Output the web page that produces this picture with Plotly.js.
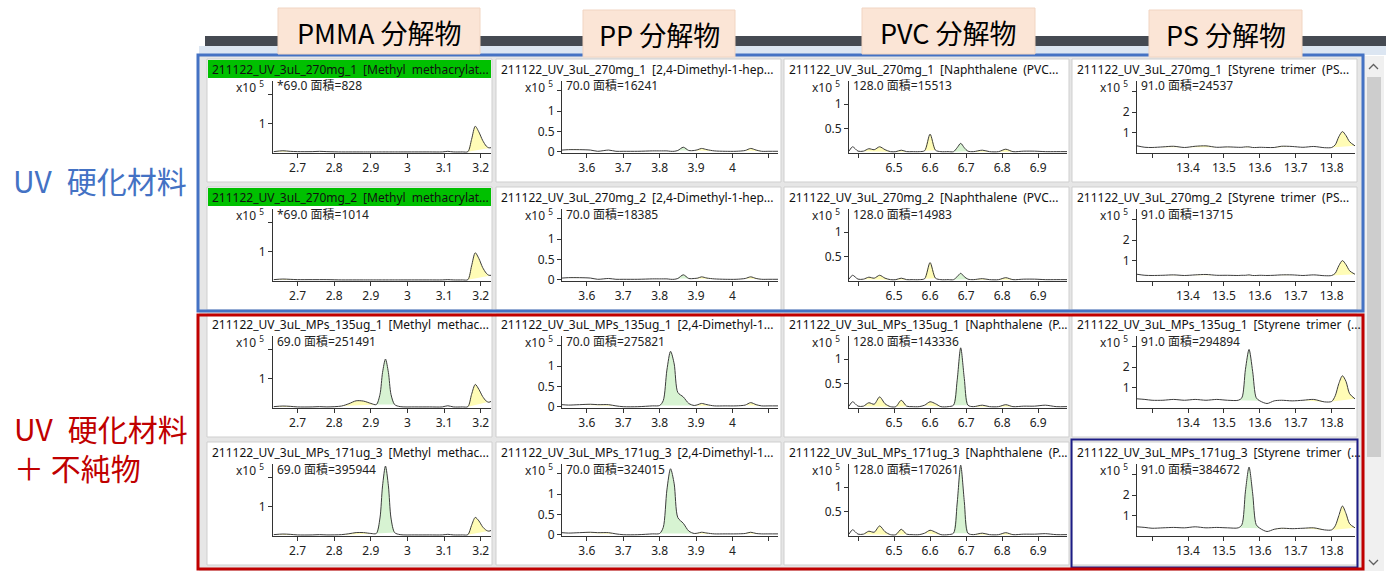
<!DOCTYPE html>
<html><head><meta charset="utf-8">
<script src="https://cdn.plot.ly/plotly-3.0.1.min.js"></script>
<style>html,body{margin:0;padding:0;background:#fff;}#chart{width:1386px;height:571px;}</style>
</head><body><div id="chart"></div>
<script>
// ---------------- DATA ----------------
const columnHeaders = ['PMMA 分解物', 'PP 分解物', 'PVC 分解物', 'PS 分解物'];
const groupLabelTop = 'UV\u2002硬化材料';
const groupLabelBottom = 'UV\u2002硬化材料<br>＋ 不純物';

const sampleNames = ['211122_UV_3uL_270mg_1', '211122_UV_3uL_270mg_2', '211122_UV_3uL_MPs_135ug_1', '211122_UV_3uL_MPs_171ug_3'];
const compoundsLong = ['[Methyl\u2002methacrylat...', '[2,4-Dimethyl-1-hep...', '[Naphthalene\u2002(PVC...', '[Styrene\u2002trimer\u2002(PS...'];
const compoundsShort = ['[Methyl\u2002methac...', '[2,4-Dimethyl-1...', '[Naphthalene\u2002(P...', '[Styrene\u2002trimer\u2002(...'];
const ionsUV = ['*69.0', '70.0', '128.0', '91.0'];
const ionsMP = ['69.0', '70.0', '128.0', '91.0'];
const areasR1 = [828, 16241, 15513, 24537];
const areasR2 = [1014, 18385, 14983, 13715];
const areasR3 = [251491, 275821, 143336, 294894];
const areasR4 = [395944, 324015, 170261, 384672];

// x tick values / labels per column (+ unlabeled tick marks)
const xTicksC1 = [2.7, 2.8, 2.9, 3.0, 3.1, 3.2];
const xTickTextC1 = ['2.7', '2.8', '2.9', '3', '3.1', '3.2'];
const xMinorC1 = [];
const xTicksC2 = [3.6, 3.7, 3.8, 3.9, 4.0];
const xTickTextC2 = ['3.6', '3.7', '3.8', '3.9', '4'];
const xMinorC2 = [4.1];
const xTicksC3 = [6.5, 6.6, 6.7, 6.8, 6.9];
const xTickTextC3 = ['6.5', '6.6', '6.7', '6.8', '6.9'];
const xMinorC3 = [6.4];
const xTicksC4 = [13.4, 13.5, 13.6, 13.7, 13.8];
const xTickTextC4 = ['13.4', '13.5', '13.6', '13.7', '13.8'];
const xMinorC4 = [13.3];
// y tick values / labels per column (x10^5)
const yTicksC1 = [1];           const yTickTextC1 = ['1'];        const yMinorC1 = [2];
const yTicksC2 = [0, 0.5, 1];   const yTickTextC2 = ['0', '0.5', '1']; const yMinorC2 = [1.5];
const yTicksC3 = [0.5, 1];      const yTickTextC3 = ['0.5', '1']; const yMinorC3 = [];
const yTicksC4 = [1, 2];        const yTickTextC4 = ['1', '2'];   const yMinorC4 = [3];

// retention times (min)
const timeC1 = [2.635, 2.66, 2.68, 2.70, 2.74, 2.76, 2.78, 2.82, 2.84, 2.86, 2.88, 2.90, 2.915, 2.925, 2.932, 2.94, 2.948, 2.955, 2.965, 2.98, 3.02, 3.06, 3.095, 3.11, 3.125, 3.15, 3.165, 3.175, 3.185, 3.195, 3.205, 3.215, 3.222, 3.23];
const timeC2 = [3.532, 3.55, 3.58, 3.61, 3.63, 3.66, 3.68, 3.70, 3.74, 3.78, 3.80, 3.81, 3.82, 3.83, 3.84, 3.85, 3.865, 3.88, 3.895, 3.905, 3.915, 3.93, 3.95, 3.98, 4.01, 4.035, 4.05, 4.065, 4.08, 4.10, 4.125];
const timeC3 = [6.375, 6.385, 6.40, 6.415, 6.43, 6.445, 6.46, 6.475, 6.49, 6.505, 6.52, 6.535, 6.55, 6.57, 6.585, 6.60, 6.615, 6.63, 6.65, 6.665, 6.675, 6.685, 6.695, 6.705, 6.72, 6.745, 6.765, 6.79, 6.81, 6.83, 6.86, 6.89, 6.92, 6.95, 6.98];
const timeC4 = [13.258, 13.28, 13.30, 13.33, 13.36, 13.39, 13.42, 13.45, 13.48, 13.51, 13.54, 13.55, 13.56, 13.57, 13.58, 13.59, 13.60, 13.62, 13.64, 13.66, 13.69, 13.72, 13.75, 13.78, 13.80, 13.81, 13.82, 13.83, 13.84, 13.85, 13.865];

// intensities (x10^5)
const mmaR1 = [0.03, 0.06, 0.04, 0.03, 0.03, 0.04, 0.03, 0.02, 0.02, 0.02, 0.02, 0.02, 0.02, 0.02, 0.02, 0.02, 0.02, 0.02, 0.02, 0.02, 0.02, 0.02, 0.02, 0.04, 0.02, 0.02, 0.03, 0.45, 0.9, 0.7, 0.42, 0.22, 0.16, 0.17];
const mmaR2 = [0.03, 0.05, 0.04, 0.03, 0.03, 0.03, 0.03, 0.02, 0.02, 0.02, 0.02, 0.02, 0.02, 0.02, 0.02, 0.02, 0.02, 0.02, 0.02, 0.02, 0.02, 0.02, 0.02, 0.03, 0.02, 0.02, 0.03, 0.5, 0.95, 0.75, 0.45, 0.25, 0.18, 0.18];
const mmaR3 = [0.03, 0.05, 0.04, 0.02, 0.02, 0.03, 0.02, 0.05, 0.13, 0.23, 0.22, 0.14, 0.1, 0.45, 1.2, 1.66, 1.2, 0.45, 0.1, 0.03, 0.02, 0.02, 0.02, 0.06, 0.02, 0.02, 0.03, 0.45, 0.79, 0.62, 0.38, 0.22, 0.18, 0.22];
const mmaR4 = [0.03, 0.05, 0.04, 0.02, 0.02, 0.03, 0.02, 0.03, 0.06, 0.1, 0.1, 0.07, 0.07, 0.6, 1.7, 2.38, 1.7, 0.6, 0.1, 0.03, 0.02, 0.02, 0.02, 0.04, 0.02, 0.02, 0.03, 0.35, 0.62, 0.5, 0.3, 0.18, 0.15, 0.18];

const ppR1 = [0.04, 0.05, 0.05, 0.04, 0.01, 0.04, 0.01, 0.01, 0.01, 0.02, 0.02, 0.02, 0.02, 0.01, 0.01, 0.03, 0.11, 0.03, 0.03, 0.05, 0.08, 0.05, 0.02, 0.01, 0.01, 0.03, 0.08, 0.04, 0.01, 0.01, 0.01];
const ppR2 = [0.04, 0.05, 0.05, 0.04, 0.01, 0.03, 0.01, 0.01, 0.01, 0.02, 0.02, 0.02, 0.02, 0.01, 0.01, 0.03, 0.12, 0.03, 0.03, 0.04, 0.07, 0.04, 0.02, 0.01, 0.01, 0.03, 0.07, 0.03, 0.01, 0.01, 0.01];
const ppR3 = [0.05, 0.04, 0.05, 0.06, 0.05, 0.05, 0.02, 0.0, 0.0, 0.02, 0.03, 0.15, 0.9, 1.36, 1.05, 0.35, 0.24, 0.08, 0.03, 0.05, 0.08, 0.05, 0.02, 0.02, 0.02, 0.04, 0.1, 0.05, 0.02, 0.02, 0.02];
const ppR4 = [0.05, 0.04, 0.05, 0.06, 0.05, 0.05, 0.02, 0.0, 0.0, 0.02, 0.03, 0.18, 1.1, 1.62, 1.25, 0.42, 0.28, 0.09, 0.03, 0.04, 0.06, 0.04, 0.02, 0.02, 0.02, 0.03, 0.06, 0.03, 0.02, 0.02, 0.02];

const pvcR1 = [0.03, 0.12, 0.03, 0.03, 0.08, 0.06, 0.12, 0.06, 0.02, 0.02, 0.05, 0.02, 0.02, 0.02, 0.04, 0.38, 0.05, 0.02, 0.02, 0.02, 0.1, 0.19, 0.1, 0.03, 0.02, 0.05, 0.02, 0.02, 0.07, 0.02, 0.03, 0.03, 0.02, 0.02, 0.02];
const pvcR2 = [0.03, 0.11, 0.03, 0.03, 0.07, 0.05, 0.11, 0.05, 0.02, 0.02, 0.05, 0.02, 0.02, 0.02, 0.04, 0.37, 0.05, 0.02, 0.02, 0.02, 0.08, 0.15, 0.08, 0.03, 0.02, 0.04, 0.02, 0.02, 0.06, 0.02, 0.03, 0.03, 0.02, 0.02, 0.02];
const pvcR3 = [0.03, 0.12, 0.03, 0.03, 0.1, 0.07, 0.22, 0.08, 0.02, 0.02, 0.15, 0.03, 0.02, 0.02, 0.05, 0.12, 0.08, 0.02, 0.02, 0.05, 0.55, 1.23, 0.6, 0.05, 0.02, 0.05, 0.02, 0.02, 0.06, 0.02, 0.03, 0.03, 0.05, 0.02, 0.02];
const pvcR4 = [0.03, 0.12, 0.03, 0.03, 0.09, 0.07, 0.2, 0.08, 0.02, 0.02, 0.13, 0.03, 0.02, 0.02, 0.05, 0.11, 0.07, 0.02, 0.02, 0.05, 0.65, 1.45, 0.7, 0.05, 0.02, 0.05, 0.02, 0.02, 0.06, 0.02, 0.03, 0.03, 0.04, 0.02, 0.02];

const psR1 = [0.35, 0.28, 0.27, 0.3, 0.33, 0.27, 0.33, 0.35, 0.28, 0.3, 0.28, 0.28, 0.3, 0.3, 0.27, 0.27, 0.28, 0.27, 0.27, 0.33, 0.32, 0.28, 0.32, 0.26, 0.27, 0.4, 0.8, 1.05, 0.85, 0.55, 0.35];
const psR2 = [0.33, 0.28, 0.27, 0.28, 0.3, 0.27, 0.3, 0.32, 0.28, 0.28, 0.27, 0.28, 0.28, 0.3, 0.27, 0.27, 0.28, 0.27, 0.28, 0.3, 0.3, 0.27, 0.3, 0.26, 0.27, 0.38, 0.75, 1.0, 0.8, 0.5, 0.33];
const psR3 = [0.45, 0.42, 0.38, 0.38, 0.42, 0.38, 0.42, 0.38, 0.42, 0.38, 0.38, 0.5, 1.9, 2.87, 1.8, 0.5, 0.35, 0.22, 0.35, 0.38, 0.35, 0.38, 0.42, 0.3, 0.32, 0.6, 1.2, 1.58, 1.3, 0.7, 0.45];
const psR4 = [0.45, 0.42, 0.38, 0.4, 0.42, 0.4, 0.45, 0.4, 0.42, 0.4, 0.4, 0.55, 2.2, 3.38, 2.1, 0.55, 0.38, 0.22, 0.33, 0.38, 0.36, 0.38, 0.4, 0.3, 0.3, 0.5, 1.0, 1.47, 1.1, 0.6, 0.4];

// integrated peak windows [start, end, kind]  (Y = yellow, G = green)
const peaksMmaR1 = [[2.635, 2.70, 'Y'], [3.165, 3.23, 'Y']];
const peaksMmaR2 = [[2.635, 2.70, 'Y'], [3.165, 3.23, 'Y']];
const peaksMmaR3 = [[2.635, 2.70, 'Y'], [2.82, 2.915, 'Y'], [2.915, 2.965, 'G'], [3.165, 3.23, 'Y']];
const peaksMmaR4 = [[2.635, 2.70, 'Y'], [2.82, 2.915, 'Y'], [2.915, 2.965, 'G'], [3.165, 3.23, 'Y']];
const peaksPpR1 = [[3.532, 3.61, 'Y'], [3.85, 3.88, 'G'], [3.895, 3.95, 'Y'], [4.035, 4.08, 'Y']];
const peaksPpR2 = [[3.532, 3.61, 'Y'], [3.85, 3.88, 'G'], [3.895, 3.95, 'Y'], [4.035, 4.08, 'Y']];
const peaksPpR3 = [[3.58, 3.68, 'Y'], [3.80, 3.895, 'G'], [3.895, 3.95, 'Y'], [4.035, 4.08, 'Y']];
const peaksPpR4 = [[3.58, 3.68, 'Y'], [3.80, 3.895, 'G'], [3.895, 3.95, 'Y'], [4.035, 4.08, 'Y']];
const peaksPvcR1 = [[6.415, 6.49, 'Y'], [6.505, 6.535, 'Y'], [6.585, 6.615, 'Y'], [6.665, 6.705, 'G'], [6.72, 6.765, 'Y'], [6.79, 6.83, 'Y']];
const peaksPvcR2 = [[6.415, 6.49, 'Y'], [6.505, 6.535, 'Y'], [6.585, 6.615, 'Y'], [6.665, 6.705, 'G'], [6.72, 6.765, 'Y'], [6.79, 6.83, 'Y']];
const peaksPvcR3 = [[6.415, 6.49, 'Y'], [6.505, 6.535, 'Y'], [6.585, 6.63, 'Y'], [6.665, 6.705, 'G'], [6.72, 6.765, 'Y'], [6.79, 6.83, 'Y']];
const peaksPvcR4 = [[6.415, 6.49, 'Y'], [6.505, 6.535, 'Y'], [6.585, 6.63, 'Y'], [6.665, 6.705, 'G'], [6.72, 6.765, 'Y'], [6.79, 6.83, 'Y']];
const peaksPsR1 = [[13.28, 13.60, 'Y'], [13.64, 13.69, 'Y'], [13.80, 13.865, 'Y']];
const peaksPsR2 = [[13.28, 13.60, 'Y'], [13.64, 13.69, 'Y'], [13.80, 13.865, 'Y']];
const peaksPsR3 = [[13.54, 13.60, 'G'], [13.72, 13.78, 'Y'], [13.80, 13.865, 'Y']];
const peaksPsR4 = [[13.54, 13.60, 'G'], [13.64, 13.69, 'Y'], [13.72, 13.78, 'Y'], [13.80, 13.865, 'Y']];

// ---------------- LAYOUT / STYLE ----------------
const W = 1386, H = 571;
const fx = v => v / W, fy = v => 1 - v / H;
const FONT = 'Noto Sans, Noto Sans CJK JP, sans-serif';
const CJK = 'Noto Sans CJK JP, Noto Sans, sans-serif';
const YEL = '#fffcb6', GRN = '#d7f3d2', LINE = '#3c3c3c';

const columns = [
  {time: timeC1, rows: [mmaR1, mmaR2, mmaR3, mmaR4], peaks: [peaksMmaR1, peaksMmaR2, peaksMmaR3, peaksMmaR4],
   xr: [2.633, 3.228], yr: [-0.017, 2.45], xt: xTicksC1, xtt: xTickTextC1, xm: xMinorC1, yt: yTicksC1, ytt: yTickTextC1, ym: yMinorC1},
  {time: timeC2, rows: [ppR1, ppR2, ppR3, ppR4], peaks: [peaksPpR1, peaksPpR2, peaksPpR3, peaksPpR4],
   xr: [3.532, 4.125], yr: [-0.032, 1.737], xt: xTicksC2, xtt: xTickTextC2, xm: xMinorC2, yt: yTicksC2, ytt: yTickTextC2, ym: yMinorC2},
  {time: timeC3, rows: [pvcR1, pvcR2, pvcR3, pvcR4], peaks: [peaksPvcR1, peaksPvcR2, peaksPvcR3, peaksPvcR4],
   xr: [6.375, 6.98], yr: [-0.008, 1.473], xt: xTicksC3, xtt: xTickTextC3, xm: xMinorC3, yt: yTicksC3, ytt: yTickTextC3, ym: yMinorC3},
  {time: timeC4, rows: [psR1, psR2, psR3, psR4], peaks: [peaksPsR1, peaksPsR2, peaksPsR3, peaksPsR4],
   xr: [13.258, 13.865], yr: [0, 3.53], xt: xTicksC4, xtt: xTickTextC4, xm: xMinorC4, yt: yTicksC4, ytt: yTickTextC4, ym: yMinorC4}
];
const areas = [areasR1, areasR2, areasR3, areasR4];
const panelX = [[207, 492], [496, 781], [784, 1069], [1072, 1357]];
const plotX = [[273, 491], [562, 778], [849, 1067], [1137, 1355]];
const rowOff = [0, 128, 255, 383];

const traces = [], shapes = [], annotations = [];
const layout = {
  width: W, height: H, margin: {l: 0, r: 0, t: 0, b: 0}, autosize: false,
  paper_bgcolor: '#ffffff', plot_bgcolor: 'rgba(0,0,0,0)', showlegend: false,
  font: {family: FONT, size: 12, color: '#222'}
};

// background (window)
shapes.push({type: 'rect', xref: 'paper', yref: 'paper', layer: 'below', x0: fx(199), x1: fx(1365), y0: fy(46), y1: fy(571), fillcolor: '#e6e6e6', line: {width: 0}});
shapes.push({type: 'rect', xref: 'paper', yref: 'paper', layer: 'below', x0: fx(205), x1: fx(1386), y0: fy(36), y1: fy(46), fillcolor: '#454a52', line: {width: 0}});
shapes.push({type: 'rect', xref: 'paper', yref: 'paper', layer: 'below', x0: fx(199), x1: fx(1386), y0: fy(46), y1: fy(55), fillcolor: '#dce6f2', line: {width: 0}});
// scrollbar
shapes.push({type: 'rect', xref: 'paper', yref: 'paper', layer: 'below', x0: fx(1365), x1: fx(1384), y0: fy(56), y1: fy(571), fillcolor: '#f0f0f0', line: {width: 0}});
shapes.push({type: 'rect', xref: 'paper', yref: 'paper', layer: 'below', x0: fx(1367), x1: fx(1381), y0: fy(77), y1: fy(457), fillcolor: '#cdcdcd', line: {width: 0}});
shapes.push({type: 'path', xref: 'paper', yref: 'paper', path: `M ${fx(1369)} ${fy(69)} L ${fx(1373.5)} ${fy(64.5)} L ${fx(1378)} ${fy(69)}`, line: {color: '#606060', width: 1.3}});
shapes.push({type: 'path', xref: 'paper', yref: 'paper', path: `M ${fx(1369)} ${fy(560)} L ${fx(1373.5)} ${fy(564.5)} L ${fx(1378)} ${fy(560)}`, line: {color: '#606060', width: 1.3}});

for (let r = 0; r < 4; r++) {
  for (let c = 0; c < 4; c++) {
    const k = r * 4 + c + 1;
    const xn = 'x' + (k > 1 ? k : ''), yn = 'y' + (k > 1 ? k : '');
    const off = rowOff[r], col = columns[c];
    // panel box
    shapes.push({type: 'rect', xref: 'paper', yref: 'paper', layer: 'below', x0: fx(panelX[c][0]), x1: fx(panelX[c][1]), y0: fy(59 + off), y1: fy(182 + off), fillcolor: '#ffffff', line: {color: '#cfcfcf', width: 1}});
    if (c === 0 && r < 2) {
      shapes.push({type: 'rect', xref: 'paper', yref: 'paper', layer: 'below', x0: fx(208), x1: fx(491), y0: fy(60 + off), y1: fy(78 + off), fillcolor: '#00c000', line: {width: 0}});
    }
    // axes
    layout['xaxis' + (k > 1 ? k : '')] = {
      domain: [fx(plotX[c][0]), fx(plotX[c][1])], anchor: yn, range: col.xr,
      tickmode: 'array', tickvals: col.xt, ticktext: col.xtt, ticks: 'outside', ticklen: 4, tickcolor: '#333',
      minor: {tickmode: 'array', tickvals: col.xm, ticks: 'outside', ticklen: 4, tickcolor: '#333', showgrid: false},
      showline: true, linecolor: '#333', linewidth: 1, showgrid: false, zeroline: false, fixedrange: true,
      tickfont: {family: FONT, size: 12, color: '#222'}
    };
    layout['yaxis' + (k > 1 ? k : '')] = {
      domain: [fy(153 + off), fy(81 + off)], anchor: xn, range: col.yr,
      tickmode: 'array', tickvals: col.yt, ticktext: col.ytt, ticks: 'outside', ticklen: 4, tickcolor: '#333',
      minor: {tickmode: 'array', tickvals: col.ym, ticks: 'outside', ticklen: 4, tickcolor: '#333', showgrid: false},
      showline: true, linecolor: '#333', linewidth: 1, showgrid: false, zeroline: false, fixedrange: true,
      tickfont: {family: FONT, size: 12, color: '#222'}
    };
    // filled peaks
    const ys = col.rows[r];
    col.peaks[r].forEach(p => {
      const px = [], py = [];
      col.time.forEach((t, i) => { if (t >= p[0] - 1e-9 && t <= p[1] + 1e-9) { px.push(t); py.push(ys[i]); } });
      traces.push({x: px, y: py, xaxis: xn, yaxis: yn, mode: 'lines', fill: 'toself',
        fillcolor: p[2] === 'G' ? GRN : YEL, line: {shape: 'spline', smoothing: 0.8, width: 0, color: LINE}, hoverinfo: 'skip'});
    });
    // chromatogram
    traces.push({x: col.time, y: ys, xaxis: xn, yaxis: yn, mode: 'lines',
      line: {shape: 'spline', smoothing: 0.8, width: 1, color: LINE}, hoverinfo: 'skip'});
    // texts
    const title = sampleNames[r] + '\u2002' + (r < 2 ? compoundsLong[c] : compoundsShort[c]);
    annotations.push({xref: 'paper', yref: 'paper', x: fx(panelX[c][0] + 3), y: fy(69 + off), xanchor: 'left', yanchor: 'middle',
      text: title, showarrow: false, font: {family: FONT, size: 12, color: '#111'}});
    annotations.push({xref: 'paper', yref: 'paper', x: fx(plotX[c][0] - 7), y: fy(87 + off), xanchor: 'right', yanchor: 'middle',
      text: 'x10 <sup>5</sup>', showarrow: false, font: {family: FONT, size: 12, color: '#222'}});
    annotations.push({xref: 'paper', yref: 'paper', x: fx(plotX[c][0] + 2), y: fy(86 + off), xanchor: 'left', yanchor: 'middle',
      text: (r < 2 ? ionsUV[c] : ionsMP[c]) + ' 面積=' + areas[r][c], showarrow: false, font: {family: FONT, size: 12, color: '#222'}});
  }
}
// selected panel frame
shapes.push({type: 'rect', xref: 'paper', yref: 'paper', x0: fx(1071.5), x1: fx(1357.5), y0: fy(439.5), y1: fy(567.5), line: {color: '#1c1c86', width: 2}});
// group frames
shapes.push({type: 'rect', xref: 'paper', yref: 'paper', x0: fx(198), x1: fx(1363), y0: fy(55), y1: fy(311), line: {color: '#4472c4', width: 3}});
shapes.push({type: 'rect', xref: 'paper', yref: 'paper', x0: fx(198), x1: fx(1363), y0: fy(315), y1: fy(569), line: {color: '#c00000', width: 3}});
// header boxes
const headerBoxes = [[278, 480, 8, 54], [583, 735, 10, 57], [862, 1035, 8, 54], [1149, 1302, 10, 57]];
headerBoxes.forEach((b, i) => {
  shapes.push({type: 'rect', xref: 'paper', yref: 'paper', x0: fx(b[0]), x1: fx(b[1]), y0: fy(b[3]), y1: fy(b[2]), fillcolor: '#fbe5d6', line: {color: '#f1d5c2', width: 1}});
  annotations.push({xref: 'paper', yref: 'paper', x: fx((b[0] + b[1]) / 2), y: fy((b[2] + b[3]) / 2 + 1), xanchor: 'center', yanchor: 'middle',
    text: columnHeaders[i], showarrow: false, font: {family: CJK, size: 27, color: '#000'}});
});
// group labels
annotations.push({xref: 'paper', yref: 'paper', x: fx(11), y: fy(180), xanchor: 'left', yanchor: 'middle', text: groupLabelTop, showarrow: false, font: {family: CJK, size: 30, color: '#4472c4'}});
annotations.push({xref: 'paper', yref: 'paper', x: fx(12), y: fy(447), xanchor: 'left', yanchor: 'middle', align: 'left', text: groupLabelBottom, showarrow: false, font: {family: CJK, size: 30, color: '#c00000'}});

layout.shapes = shapes;
layout.annotations = annotations;
Plotly.newPlot('chart', traces, layout, {staticPlot: true, displayModeBar: false});
</script>
</body></html>
